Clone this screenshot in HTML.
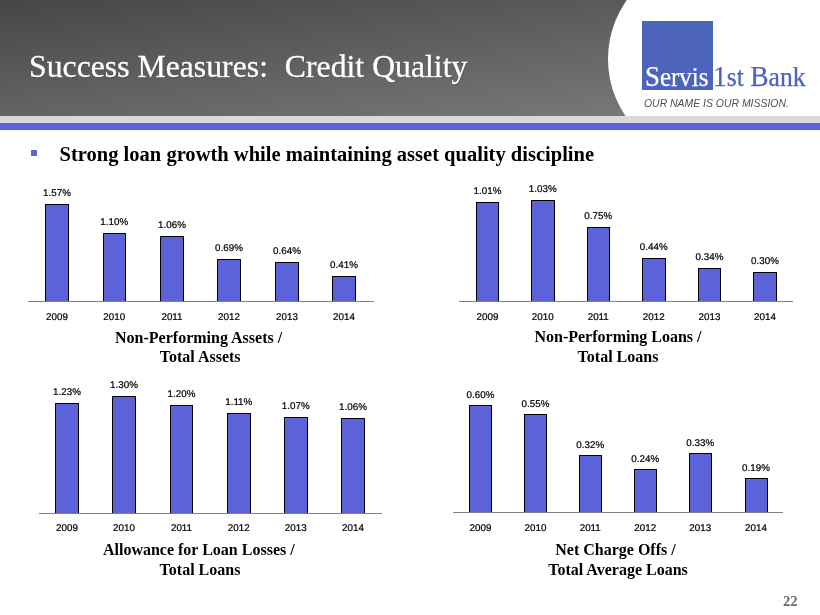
<!DOCTYPE html>
<html><head><meta charset="utf-8"><title>Success Measures: Credit Quality</title>
<style>
html,body{margin:0;padding:0;background:#fff;}
body{width:820px;height:615px;position:relative;overflow:hidden;font-family:"Liberation Serif",serif;}
.abs{position:absolute;}
#hdr{left:0;top:0;width:820px;height:116px;background:linear-gradient(172.9deg,#464646,#7e7e7e);overflow:hidden;}
#arc{left:608.2px;top:-41.7px;width:201.4px;height:201.4px;border-radius:50%;background:#fff;}
#arcr{left:709px;top:0;width:111px;height:116px;background:#fff;}
#band1{left:0;top:116px;width:820px;height:7px;background:#d9d9d9;}
#band2{left:0;top:123px;width:820px;height:7px;background:#5b62d6;}
#title{left:29px;top:48.6px;font-size:31.75px;line-height:36px;color:#fff;white-space:pre;-webkit-text-stroke:.3px #fff;text-shadow:.5px .5px .5px rgba(0,0,0,.25);}
#sq{left:642px;top:21px;width:70.6px;height:69px;background:#4c64bb;}
#servis{left:645.2px;top:62px;font-size:26.5px;line-height:30px;color:#fff;white-space:pre;transform:scaleX(.94);-webkit-text-stroke:.25px #fff;transform-origin:0 0;}
#bank{left:712.6px;top:62px;font-size:26.5px;line-height:30px;color:#4c64bb;white-space:pre;transform:scaleX(.966);-webkit-text-stroke:.25px #4c64bb;transform-origin:0 0;}
#tag{left:644.4px;top:96px;font:italic 11px/14px "Liberation Sans",sans-serif;color:#505050;white-space:pre;transform:scaleX(.948);transform-origin:0 0;}
.cp{font-size:28.5px;line-height:0;}
#bul{left:30.6px;top:149.8px;width:6.5px;height:6.2px;background:#5f63d2;}
#lead{left:59.6px;top:141.6px;font-weight:bold;font-size:20.52px;line-height:24px;color:#000;white-space:pre;}
.bar{position:absolute;background:#5c62d7;border:1px solid #000;border-bottom:none;box-sizing:border-box;}
.axis{position:absolute;height:1px;background:#808080;}
.lab{position:absolute;font:9.8px/12px "Liberation Sans",sans-serif;text-rendering:geometricPrecision;-webkit-text-stroke:.22px #000;color:#000;text-align:center;width:60px;white-space:pre;}
.cap{position:absolute;font-weight:bold;font-size:16px;line-height:20px;color:#000;text-align:center;width:300px;white-space:pre;}
#pg{left:783px;top:592.85px;font-weight:bold;font-size:14.67px;line-height:16px;color:#666a72;}
</style></head><body>
<div id="hdr" class="abs"><div id="arc" class="abs"></div><div id="arcr" class="abs"></div></div>
<div id="band1" class="abs"></div><div id="band2" class="abs"></div>
<div id="title" class="abs">Success Measures:  <span style="margin-left:1px">Credit Quality</span></div>
<div id="sq" class="abs"></div>
<div id="servis" class="abs"><span class="cp">S</span>ervis</div>
<div id="bank" class="abs"><span class="cp">1</span>st <span class="cp">B</span>ank</div>
<div id="tag" class="abs">OUR NAME IS OUR MISSION.</div>
<div id="bul" class="abs"></div>
<div id="lead" class="abs">Strong loan growth while maintaining asset quality discipline</div>

<div class="axis" style="left:28px;top:301px;width:346px"></div>
<div class="bar" style="left:45px;top:204px;width:24px;height:97px"></div>
<div class="lab" style="left:27.0px;top:188px">1.57%</div>
<div class="lab" style="left:27.0px;top:312px">2009</div>
<div class="bar" style="left:102.5px;top:233px;width:23.5px;height:68px"></div>
<div class="lab" style="left:84.25px;top:217px">1.10%</div>
<div class="lab" style="left:84.25px;top:312px">2010</div>
<div class="bar" style="left:160px;top:236px;width:24px;height:65px"></div>
<div class="lab" style="left:142.0px;top:220px">1.06%</div>
<div class="lab" style="left:142.0px;top:312px">2011</div>
<div class="bar" style="left:217px;top:259px;width:24px;height:42px"></div>
<div class="lab" style="left:199.0px;top:243px">0.69%</div>
<div class="lab" style="left:199.0px;top:312px">2012</div>
<div class="bar" style="left:275px;top:262px;width:24px;height:39px"></div>
<div class="lab" style="left:257.0px;top:246px">0.64%</div>
<div class="lab" style="left:257.0px;top:312px">2013</div>
<div class="bar" style="left:332px;top:276px;width:24px;height:25px"></div>
<div class="lab" style="left:314.0px;top:260px">0.41%</div>
<div class="lab" style="left:314.0px;top:312px">2014</div>
<div class="cap" style="left:48.599999999999994px;top:327.5px">Non-Performing Assets /</div>
<div class="cap" style="left:50.19999999999999px;top:347px">Total Assets</div>
<div class="axis" style="left:459px;top:301px;width:334px"></div>
<div class="bar" style="left:476px;top:202px;width:23px;height:99px"></div>
<div class="lab" style="left:457.5px;top:186px">1.01%</div>
<div class="lab" style="left:457.5px;top:312px">2009</div>
<div class="bar" style="left:531px;top:200px;width:23.5px;height:101px"></div>
<div class="lab" style="left:512.75px;top:184px">1.03%</div>
<div class="lab" style="left:512.75px;top:312px">2010</div>
<div class="bar" style="left:587px;top:227px;width:22.5px;height:74px"></div>
<div class="lab" style="left:568.25px;top:211px">0.75%</div>
<div class="lab" style="left:568.25px;top:312px">2011</div>
<div class="bar" style="left:642px;top:258px;width:23.5px;height:43px"></div>
<div class="lab" style="left:623.75px;top:242px">0.44%</div>
<div class="lab" style="left:623.75px;top:312px">2012</div>
<div class="bar" style="left:698px;top:268px;width:23px;height:33px"></div>
<div class="lab" style="left:679.5px;top:252px">0.34%</div>
<div class="lab" style="left:679.5px;top:312px">2013</div>
<div class="bar" style="left:753px;top:272px;width:24px;height:29px"></div>
<div class="lab" style="left:735.0px;top:256px">0.30%</div>
<div class="lab" style="left:735.0px;top:312px">2014</div>
<div class="cap" style="left:468px;top:327px">Non-Performing Loans /</div>
<div class="cap" style="left:468px;top:347px">Total Loans</div>
<div class="axis" style="left:38.5px;top:513px;width:343.5px"></div>
<div class="bar" style="left:55px;top:403px;width:24px;height:110px"></div>
<div class="lab" style="left:37.0px;top:387px">1.23%</div>
<div class="lab" style="left:37.0px;top:523px">2009</div>
<div class="bar" style="left:112px;top:396px;width:24px;height:117px"></div>
<div class="lab" style="left:94.0px;top:380px">1.30%</div>
<div class="lab" style="left:94.0px;top:523px">2010</div>
<div class="bar" style="left:170px;top:405px;width:23px;height:108px"></div>
<div class="lab" style="left:151.5px;top:389px">1.20%</div>
<div class="lab" style="left:151.5px;top:523px">2011</div>
<div class="bar" style="left:227px;top:413px;width:23.5px;height:100px"></div>
<div class="lab" style="left:208.75px;top:397px">1.11%</div>
<div class="lab" style="left:208.75px;top:523px">2012</div>
<div class="bar" style="left:284px;top:417px;width:23.5px;height:96px"></div>
<div class="lab" style="left:265.75px;top:401px">1.07%</div>
<div class="lab" style="left:265.75px;top:523px">2013</div>
<div class="bar" style="left:341px;top:418px;width:24px;height:95px"></div>
<div class="lab" style="left:323.0px;top:402px">1.06%</div>
<div class="lab" style="left:323.0px;top:523px">2014</div>
<div class="cap" style="left:48.80000000000001px;top:540px">Allowance for Loan Losses /</div>
<div class="cap" style="left:50px;top:560px">Total Loans</div>
<div class="axis" style="left:452.5px;top:512px;width:330.5px"></div>
<div class="bar" style="left:469px;top:405px;width:23px;height:107px"></div>
<div class="lab" style="left:450.5px;top:390px">0.60%</div>
<div class="lab" style="left:450.5px;top:523px">2009</div>
<div class="bar" style="left:524px;top:414px;width:23px;height:98px"></div>
<div class="lab" style="left:505.5px;top:399px">0.55%</div>
<div class="lab" style="left:505.5px;top:523px">2010</div>
<div class="bar" style="left:579px;top:455px;width:22.5px;height:57px"></div>
<div class="lab" style="left:560.25px;top:440px">0.32%</div>
<div class="lab" style="left:560.25px;top:523px">2011</div>
<div class="bar" style="left:634px;top:469px;width:22.5px;height:43px"></div>
<div class="lab" style="left:615.25px;top:454px">0.24%</div>
<div class="lab" style="left:615.25px;top:523px">2012</div>
<div class="bar" style="left:689px;top:453px;width:22.5px;height:59px"></div>
<div class="lab" style="left:670.25px;top:438px">0.33%</div>
<div class="lab" style="left:670.25px;top:523px">2013</div>
<div class="bar" style="left:744.5px;top:478px;width:23.0px;height:34px"></div>
<div class="lab" style="left:726.0px;top:463px">0.19%</div>
<div class="lab" style="left:726.0px;top:523px">2014</div>
<div class="cap" style="left:465.5px;top:540px">Net Charge Offs /</div>
<div class="cap" style="left:468px;top:560px">Total Average Loans</div>
<div id="pg" class="abs">22</div>
</body></html>
